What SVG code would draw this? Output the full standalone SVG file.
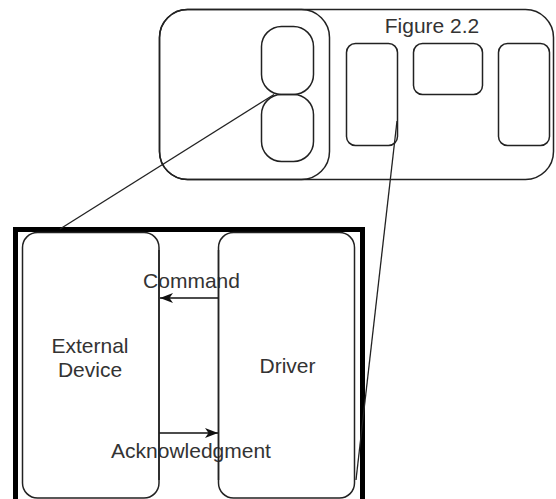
<svg xmlns="http://www.w3.org/2000/svg" width="556" height="499" viewBox="0 0 556 499">
  <defs>
    <style>
      .shape { fill: none; stroke: #222; stroke-width: 1.5; }
      .frame { fill: none; stroke: #000; stroke-width: 5; }
      .link { fill: none; stroke: #222; stroke-width: 1.3; }
      .flow { fill: none; stroke: #111; stroke-width: 1.6; }
      .label { font-family: "Liberation Sans", Arial, sans-serif; font-size: 21px; fill: #333; text-anchor: middle; }
    </style>
    <marker id="head" markerWidth="14" markerHeight="12" refX="13" refY="6" orient="auto" markerUnits="userSpaceOnUse">
      <path d="M0,1 L13,6 L0,11 L3.5,6 Z" fill="#111"/>
    </marker>
  </defs>

  <!-- overview panel -->
  <g id="overview">
    <rect class="shape" x="159.5" y="9.5" width="394" height="170" rx="28"/>
    <text class="label" x="432" y="33">Figure 2.2</text>
  </g>
  <g id="overview-left">
    <rect class="shape" x="159.5" y="9.5" width="170" height="170" rx="28"/>
  </g>
  <g id="slot-top">
    <rect class="shape" x="261.5" y="26.5" width="52" height="68" rx="20"/>
  </g>
  <g id="slot-bottom">
    <rect class="shape" x="261.5" y="94.5" width="52" height="67" rx="20"/>
  </g>
  <g id="block-a">
    <rect class="shape" x="346.5" y="43.5" width="51" height="102" rx="9"/>
  </g>
  <g id="block-b">
    <rect class="shape" x="413.5" y="43.5" width="69" height="51" rx="9"/>
  </g>
  <g id="block-c">
    <rect class="shape" x="498.5" y="43.5" width="51" height="102" rx="9"/>
  </g>

  <!-- detail panel -->
  <g id="detail">
    <rect class="frame" x="15.5" y="229.5" width="347" height="300"/>
  </g>
  <g id="external-device">
    <rect class="shape" x="22.5" y="232.5" width="136.5" height="265.5" rx="15"/>
    <text class="label" x="90" y="353">External</text>
    <text class="label" x="90" y="377">Device</text>
  </g>
  <g id="driver">
    <rect class="shape" x="218.5" y="232.5" width="136" height="265.5" rx="15"/>
    <text class="label" x="287.5" y="373">Driver</text>
  </g>

  <!-- connectors -->
  <g id="connectors">
    <line class="link" x1="274" y1="94.5" x2="60" y2="229"/>
    <line class="link" x1="397" y1="121" x2="356" y2="480"/>
    <text class="label" x="191.5" y="288">Command</text>
    <line class="flow" x1="218.5" y1="298" x2="160" y2="298" marker-end="url(#head)"/>
    <text class="label" x="191" y="458">Acknowledgment</text>
    <line class="flow" x1="159" y1="433" x2="218" y2="433" marker-end="url(#head)"/>
    <line class="shape" x1="159" y1="250" x2="159" y2="480"/>
    <line class="shape" x1="218.5" y1="250" x2="218.5" y2="480"/>
  </g>
</svg>
